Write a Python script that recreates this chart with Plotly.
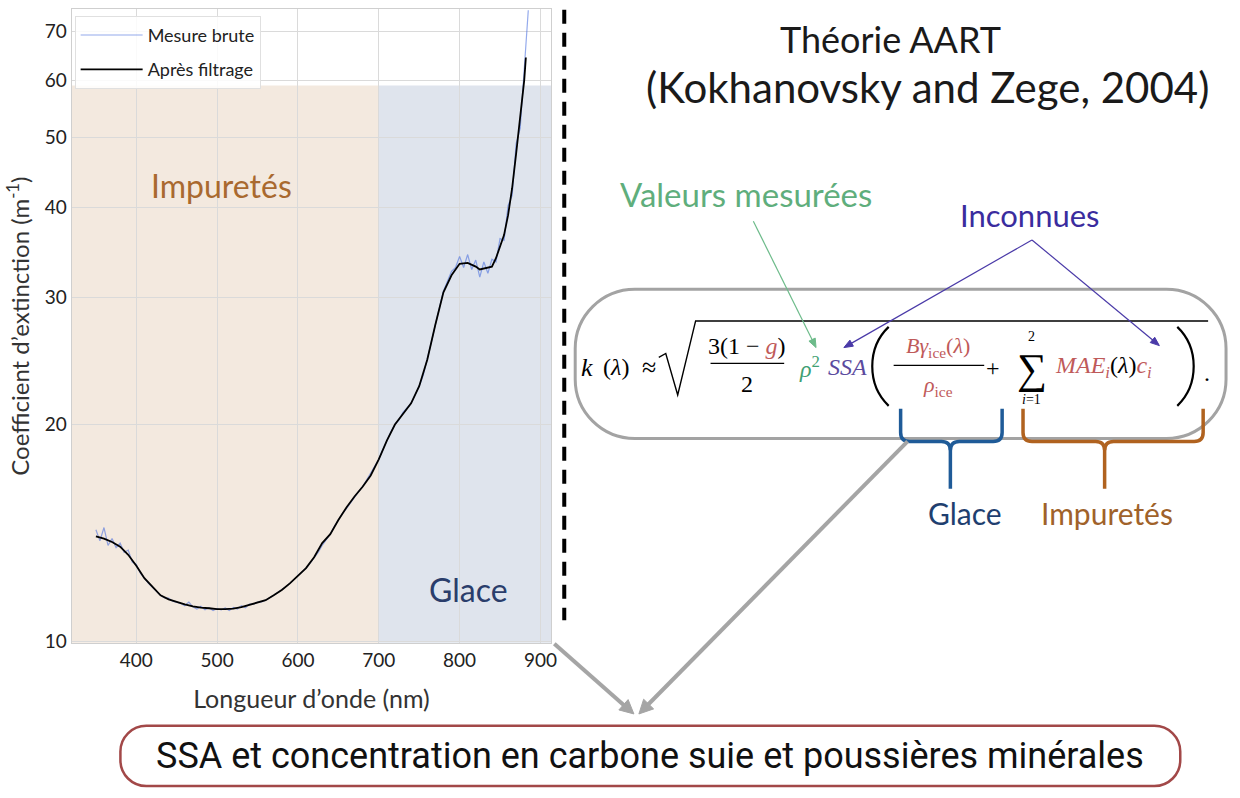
import plotly.graph_objects as go
import numpy as np

W, H = 1240, 798

# Filtered extinction spectrum (nm, m^-1)
wl_filtered = [350, 360, 370, 380, 390, 400, 410, 420, 430, 440,
               450, 460, 470, 480, 490, 500, 510, 520, 530, 540,
               550, 560, 570, 580, 590, 600, 610, 620, 630, 640,
               650, 660, 670, 680, 690, 700, 710, 720, 730, 740,
               750, 760, 770, 780, 790, 800, 810, 820, 825, 830,
               840, 845, 850, 855, 860, 865, 870, 875, 880, 882]
k_filtered = [14.0, 13.9, 13.75, 13.55, 13.2, 12.75, 12.25, 11.9, 11.6, 11.45,
              11.35, 11.27, 11.2, 11.15, 11.13, 11.1, 11.1, 11.12, 11.17, 11.25,
              11.33, 11.42, 11.6, 11.8, 12.05, 12.35, 12.65, 13.1, 13.7, 14.1,
              14.75, 15.35, 15.9, 16.4, 17.0, 17.9, 19.0, 20.0, 20.7, 21.4,
              22.6, 24.6, 27.5, 30.5, 32.2, 33.4, 33.5, 33.1, 32.8, 32.9,
              33.1, 34.0, 35.4, 36.6, 39.0, 42.5, 47.5, 53.0, 60.0, 64.5]

# Raw measurement, sampled every 5 nm from 350 nm
wl_raw = list(range(350, 890, 5))
k_raw = [14.3, 13.8, 14.4, 13.6, 13.9, 13.5, 13.7, 13.3, 13.4, 12.9,
         12.8, 12.45, 12.25, 12.05, 11.9, 11.75, 11.6, 11.5, 11.5, 11.38,
         11.35, 11.3, 11.22, 11.35, 11.18, 11.1, 11.2, 11.08, 11.15, 11.05,
         11.12, 11.07, 11.14, 11.05, 11.16, 11.1, 11.22, 11.15, 11.28, 11.28,
         11.35, 11.36, 11.42, 11.5, 11.6, 11.7, 11.8, 11.92, 12.05, 12.2,
         12.35, 12.5, 12.65, 12.85, 13.05, 13.3, 13.6, 13.85, 14.1, 14.45,
         14.75, 15.05, 15.3, 15.6, 15.85, 16.15, 16.4, 16.75, 17.1, 17.5,
         17.9, 18.45, 19.0, 19.55, 20.0, 20.3, 20.8, 21.1, 21.4, 22.0,
         22.6, 23.4, 24.6, 26.0, 27.5, 29.0, 30.6, 31.6, 32.6, 33.0,
         34.2, 33.0, 34.4, 32.8, 33.8, 32.0, 33.6, 32.4, 33.9, 33.6,
         36.2, 36.0, 40.2, 41.5, 49.0, 51.5, 63.0, 75.0]

x_ticks = [400, 500, 600, 700, 800, 900]
y_ticks = [10, 20, 30, 40, 50, 60, 70]
x_range = [320, 913.5]
y_range = [0.9986, 1.8762]   # log10 range
ice_start = 700              # nm, start of the ice-dominated band
shade_top = 59               # m^-1

def px(x):
    return x / W

def py(y):
    return 1 - y / H

def path(cmds):
    out = []
    for c in cmds:
        if isinstance(c, str):
            out.append(c)
        else:
            out.append(f"{px(c[0]):.5f},{py(c[1]):.5f}")
    return " ".join(out)

def rounded_rect(x0, y0, x1, y1, r):
    k = 0.5523 * r
    return path([
        "M", (x0 + r, y0), "L", (x1 - r, y0),
        "C", (x1 - r + k, y0), (x1, y0 + r - k), (x1, y0 + r),
        "L", (x1, y1 - r),
        "C", (x1, y1 - r + k), (x1 - r + k, y1), (x1 - r, y1),
        "L", (x0 + r, y1),
        "C", (x0 + r - k, y1), (x0, y1 - r + k), (x0, y1 - r),
        "L", (x0, y0 + r),
        "C", (x0, y0 + r - k), (x0 + r - k, y0), (x0 + r, y0), "Z"])

fig = go.Figure()
fig.add_trace(go.Scatter(x=wl_raw, y=k_raw, mode="lines", name="Mesure brute",
                         legendgroup="raw",
                         line=dict(color="rgba(60,100,220,0.55)", width=1.2)))
fig.add_trace(go.Scatter(x=wl_filtered, y=k_filtered, mode="lines",
                         name="Après filtrage", legendgroup="filt",
                         line=dict(color="black", width=1.8)))

shapes = []
# Background bands
top_frac = (np.log10(shade_top) - y_range[0]) / (y_range[1] - y_range[0])
shapes.append(dict(type="rect", xref="x", yref="y domain", x0=x_range[0], x1=ice_start,
                   y0=0, y1=top_frac, fillcolor="#f3e9df", line_width=0, layer="below"))
shapes.append(dict(type="rect", xref="x", yref="y domain", x0=ice_start, x1=x_range[1],
                   y0=0, y1=top_frac, fillcolor="#dfe4ed", line_width=0, layer="below"))

# Dashed separator
shapes.append(dict(type="line", xref="paper", yref="paper", x0=px(567), x1=px(567),
                   y0=py(10), y1=py(628), line=dict(color="black", width=4, dash="14px,9px")))

# Rounded frame around the formula
shapes.append(dict(type="path", xref="paper", yref="paper",
                   path=rounded_rect(578, 293, 1232, 444, 60),
                   line=dict(color="#a3a3a3", width=3)))

# Result box
shapes.append(dict(type="path", xref="paper", yref="paper",
                   path=rounded_rect(121, 735, 1186, 796, 26),
                   line=dict(color="#a24848", width=2.5)))

# Radical sign and fraction bars
thin = dict(color="black", width=1.4)
shapes.append(dict(type="path", xref="paper", yref="paper",
                   path=path(["M", (662, 362), "L", (669, 358), "L", (681, 400),
                              "L", (699, 325), "L", (1214, 325)]), line=thin))
shapes.append(dict(type="path", xref="paper", yref="paper",
                   path=path(["M", (714, 368), "L", (788, 368)]), line=thin))
shapes.append(dict(type="path", xref="paper", yref="paper",
                   path=path(["M", (898, 370), "L", (989, 370)]), line=thin))
# Large parentheses
shapes.append(dict(type="path", xref="paper", yref="paper",
                   path=path(["M", (893, 331), "C", (871, 352), (871, 390), (893, 411)]),
                   line=dict(color="black", width=2.2)))
shapes.append(dict(type="path", xref="paper", yref="paper",
                   path=path(["M", (1183, 331), "C", (1205, 352), (1205, 390), (1183, 411)]),
                   line=dict(color="black", width=2.2)))

# Braces under the ice and impurity terms
def brace(xl, xr, xm, color):
    for xs, sgn in ((xl, 1), (xr, -1)):
        cmds = ["M", (xs, 414), "L", (xs, 438), "Q", (xs, 447), (xs + 9 * sgn, 447),
                "L", (xm - 9 * sgn, 447), "Q", (xm, 447), (xm, 456)]
        if sgn == 1:
            cmds += ["L", (xm, 495)]
        shapes.append(dict(type="path", xref="paper", yref="paper", path=path(cmds),
                           line=dict(color=color, width=3.5)))

brace(905, 1007, 955, "#1f5b98")
brace(1028, 1209, 1110, "#b0621f")

# Straight pointers with a filled head
def arrow(tail, head, color, width, hl, hw):
    tx, ty = tail
    hx, hy = head
    L = np.hypot(hx - tx, hy - ty)
    ux, uy = (hx - tx) / L, (hy - ty) / L
    bx, by = hx - ux * hl, hy - uy * hl
    nx, ny = -uy, ux
    shapes.append(dict(type="path", xref="paper", yref="paper",
                       path=path(["M", (tx, ty), "L", (bx + ux, by + uy)]),
                       line=dict(color=color, width=width)))
    shapes.append(dict(type="path", xref="paper", yref="paper",
                       path=path(["M", (hx, hy), "L", (bx + nx * hw / 2, by + ny * hw / 2),
                                  "L", (bx - nx * hw / 2, by - ny * hw / 2), "Z"]),
                       fillcolor=color, line=dict(color=color, width=1)))

arrow((757, 224), (820, 352), "#6dbb8a", 1.2, 9, 7)
arrow((1037, 243), (848, 352), "#4a3aa8", 1.2, 9, 7)
arrow((1037, 243), (1165, 350), "#4a3aa8", 1.2, 9, 7)
arrow((557, 652), (637, 723), "#a5a5a5", 4, 14, 14)
arrow((912, 447), (642, 723), "#a5a5a5", 4, 14, 14)

anns = []

def text(x, y, s, size, color="#111", family="Lato", xanchor="center"):
    anns.append(dict(x=px(x), y=py(y), xref="paper", yref="paper", text=s,
                     showarrow=False, xanchor=xanchor, yanchor="middle",
                     font=dict(size=size, color=color, family=family)))

# Region labels on the spectrum
text(223, 188, "Impuretés", 32, "#a9692f")
text(471, 597, "Glace", 32, "#2a3d6b")

# Headings
text(895, 40, "Théorie AART", 36, "#1a1a1a")
text(932, 88, "(Kokhanovsky and Zege, 2004)", 42, "#1a1a1a")
text(750, 196, "Valeurs mesurées", 33, "#5fae7c")
text(1035, 218, "Inconnues", 31, "#3a2c9e")

# Formula
serif = "Liberation Serif"
pink = "#bf5a5a"
green = "#3f9f73"
purple = "#5b4a9e"
text(590, 372, "<i>k</i>", 26, "black", serif)
text(619, 372, "(<i>λ</i>)", 24, "black", serif)
text(652, 372, "≈", 26, "black", serif)
text(751, 350, f"3(1 − <span style='color:{pink}'><i>g</i></span>)", 24, "black", serif)
text(751, 389, "2", 24, "black", serif)
text(813, 372, "<i>ρ</i><sup>2</sup>", 24, green, serif)
text(852, 372, "<i>SSA</i>", 24, purple, serif)
text(943, 351, "<i>Bγ</i><sub>ice</sub>(<i>λ</i>)", 22, pink, serif)
text(943, 391, "<i>ρ</i><sub>ice</sub>", 22, pink, serif)
text(998, 373, "+", 24, "black", serif)
text(1037, 374, "∑", 42, "black", serif)
text(1037, 341, "2", 14, "black", serif)
text(1037, 405, "<i>i</i>=1", 14, "black", serif)
text(1058, 372, f"<span style='color:{pink}'><i>MAE</i><sub><i>i</i></sub></span>(<i>λ</i>)"
                f"<span style='color:{pink}'><i>c</i><sub><i>i</i></sub></span>",
     24, "black", serif, xanchor="left")
text(1213, 378, ".", 24, "black", serif)

# Term labels under the braces
text(970, 520, "Glace", 30, "#1f3f6f")
text(1112, 520, "Impuretés", 30, "#a0622a")

# Result
text(653, 766, "SSA et concentration en carbone suie et poussières minérales", 36,
     "#111", "Roboto, sans-serif")

axis_font = dict(family="Lato", size=19, color="#222")
fig.update_layout(
    width=W, height=H, margin=dict(l=0, r=0, t=0, b=0),
    paper_bgcolor="white", plot_bgcolor="white",
    shapes=shapes, annotations=anns,
    legend=dict(x=px(75), y=py(16), xanchor="left", yanchor="top",
                bgcolor="rgba(255,255,255,0.85)", bordercolor="#e0e0e0", borderwidth=1,
                font=dict(family="Lato", size=18, color="#222"),
                tracegroupgap=8, itemwidth=62),
    xaxis=dict(domain=[px(72), px(554)], range=x_range, tickvals=x_ticks,
               showgrid=True, gridcolor="#dadada", gridwidth=1,
               showline=True, linecolor="#cfcfcf", mirror=True, ticks="",
               zeroline=False, tickfont=axis_font,
               title=dict(text="Longueur d’onde (nm)", standoff=20,
                          font=dict(family="Lato", size=25, color="#333"))),
    yaxis=dict(domain=[py(651), py(9.5)], type="log", range=y_range,
               tickvals=y_ticks, ticktext=[str(v) for v in y_ticks],
               showgrid=True, gridcolor="#dadada", gridwidth=1,
               showline=True, linecolor="#cfcfcf", mirror=True, ticks="",
               zeroline=False, tickfont=axis_font,
               title=dict(text="Coefficient d’extinction (m<sup>-1</sup>)", standoff=8,
                          font=dict(family="Lato", size=24, color="#333"))),
)

fig.write_html("out.html")
